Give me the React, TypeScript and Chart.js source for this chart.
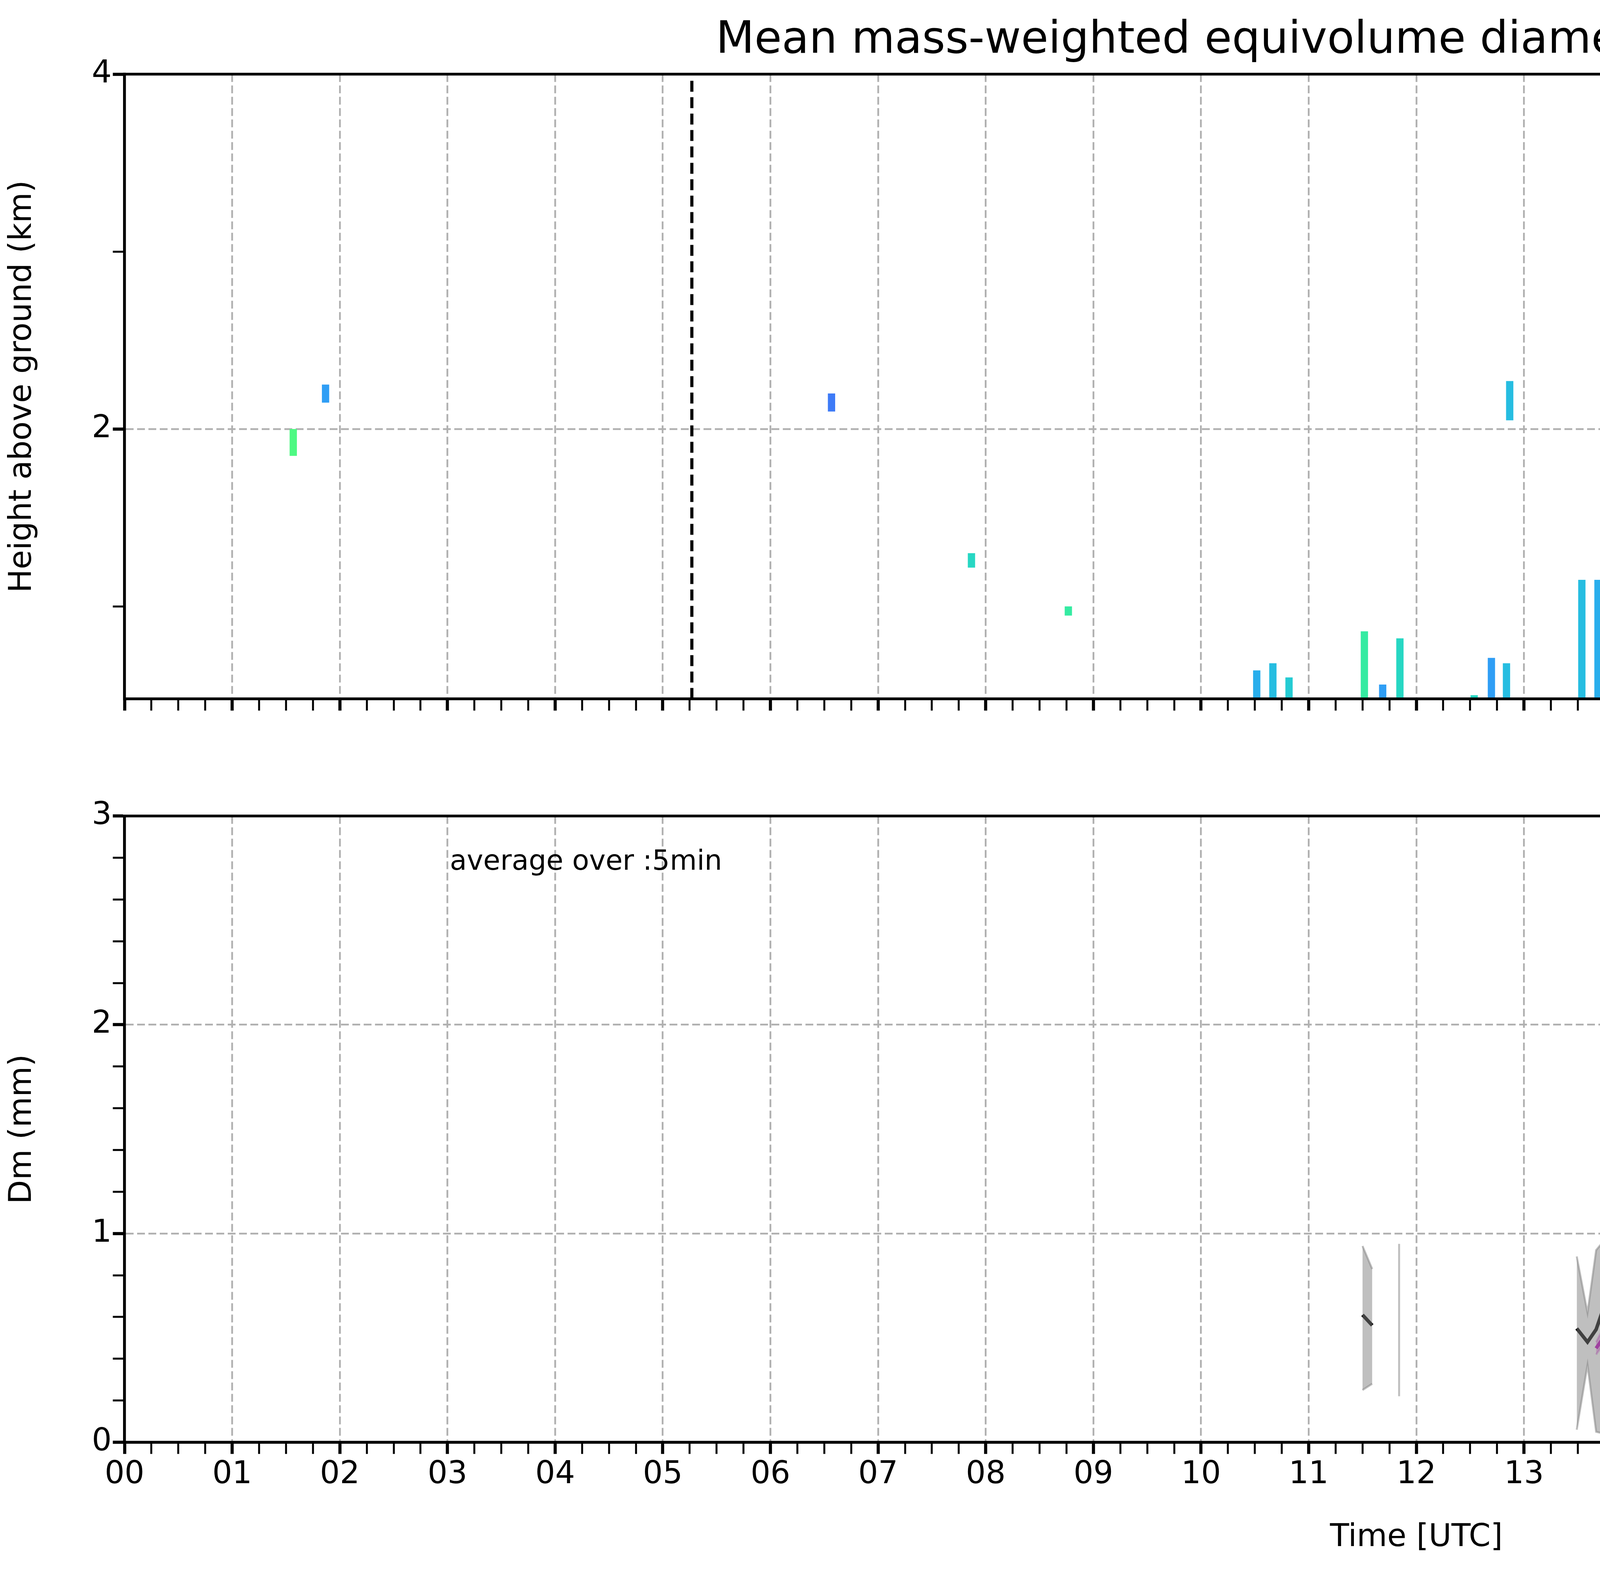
import { useEffect, useRef } from "react";
import { Chart, registerables } from "chart.js";

Chart.register(...registerables);

const S = 7442 / 1564;
const FONT = "DejaVu Sans";

// top panel: radar columns (hour, bottom km, top km, Dm mm)
const colTime = [1.6, 1.9, 6.6, 7.9, 8.8, 10.55, 10.7, 10.85, 11.55, 11.72, 11.88, 12.57, 12.73, 12.87, 12.9, 13.57, 13.72, 13.87, 14.57, 14.72, 14.88, 14.9, 15.55, 15.7, 15.85, 16.53, 16.68, 16.83, 17.55, 17.73, 17.88, 18.57, 18.72, 18.88, 19.57, 19.72, 19.87, 20.57, 20.72, 20.87, 21.57, 21.73, 21.87, 22.55, 22.7, 22.85, 23.55, 23.7, 23.85];
const colBottom = [1.85, 2.15, 2.1, 1.22, 0.95, 0.48, 0.48, 0.48, 0.48, 0.48, 0.48, 0.48, 0.48, 0.48, 2.05, 0.48, 0.48, 0.48, 0.48, 0.48, 0.53, 2.0, 0.48, 0.48, 0.48, 0.48, 0.48, 0.48, 0.48, 0.48, 0.48, 0.48, 0.48, 0.48, 0.48, 0.48, 0.48, 0.48, 0.48, 0.53, 1.33, 0.56, 0.48, 0.48, 0.48, 0.48, 0.48, 0.48, 0.48];
const colTop = [2.0, 2.25, 2.2, 1.3, 1.0, 0.64, 0.68, 0.6, 0.86, 0.56, 0.82, 0.5, 0.71, 0.68, 2.27, 1.15, 1.15, 1.11, 1.26, 1.26, 1.22, 2.27, 1.22, 1.15, 1.08, 1.11, 1.22, 1.11, 1.08, 1.22, 1.26, 1.04, 1.08, 1.04, 1.11, 1.15, 1.04, 1.08, 1.01, 1.04, 1.41, 1.04, 1.04, 1.01, 0.93, 1.04, 1.04, 1.04, 1.01];
const colDm = [0.8, 0.4, 0.3, 0.6, 0.7, 0.45, 0.5, 0.55, 0.7, 0.4, 0.6, 0.6, 0.4, 0.5, 0.5, 0.5, 0.45, 0.4, 0.7, 0.45, 0.45, 0.5, 0.8, 0.5, 0.75, 1.0, 0.5, 0.6, 0.9, 0.6, 0.5, 1.0, 0.5, 1.1, 0.7, 0.65, 0.4, 0.4, 0.5, 0.45, 0.55, 0.7, 0.4, 0.5, 0.7, 0.5, 0.4, 0.35, 0.4];
const eventLines = [5.27, 16.8];

// bottom panel: radar Dm (null = gap)
const radarTime = [11.5, 11.59, null, 13.49, 13.59, 13.67, 13.75, 13.84, null, 14.49, 14.59, 14.67, 14.75, 14.84, null, 15.49, 15.58, 15.67, 15.75, 15.83, null, 16.5, 16.59, 16.67, 16.76, 16.84, null, 17.5, 17.59, 17.67, 17.75, 17.84, null, 18.5, 18.59, 18.67, null, 19.5, 19.59, 19.67, 19.75, 19.84, null, 20.5, 20.59, 20.67, 20.75, 20.84, null, 21.67, 21.75, 21.84, null, 22.5, 22.59, 22.67, 22.75, 22.84, null, 23.5, 23.59, 23.67, 23.75, 23.84];
const radarMedian = [0.61, 0.56, null, 0.545, 0.48, 0.54, 0.66, 0.545, null, 0.54, 0.53, 0.54, 0.47, 0.535, null, 0.67, 0.85, 0.48, 0.4, 0.67, null, 0.63, 0.94, 0.53, 0.5, 0.51, null, 0.86, 0.51, 0.55, 0.54, 0.54, null, 0.81, 0.86, 0.55, null, 0.56, 0.58, 0.55, 0.58, 0.49, null, 0.39, 0.24, 0.49, 0.51, 0.535, null, 0.47, 0.44, 0.5, null, 0.535, 0.53, 0.62, 0.62, 0.48, null, 0.44, 0.39, 0.29, 0.41, 0.45];
const radarMax = [0.94, 0.83, null, 0.89, 0.62, 0.92, 0.97, 0.98, null, 0.59, 1.12, 0.79, 0.6, 0.58, null, 0.95, 0.95, 1.0, 0.85, 1.16, null, 1.45, 1.14, 0.6, 0.62, 1.66, null, 1.09, 0.67, 0.87, 0.7, 0.61, null, 1.05, 0.92, 0.92, null, 0.95, 0.86, 0.68, 0.82, 1.09, null, 0.99, 0.6, 0.6, 0.54, 0.94, null, 0.59, 0.52, 0.66, null, 0.87, 0.74, 0.81, 0.79, 0.66, null, 0.92, 0.71, 0.7, 0.57, 0.67];
const radarMin = [0.25, 0.28, null, 0.06, 0.37, 0.05, 0.04, 0.06, null, 0.44, 0.32, 0.0, 0.24, 0.33, null, 0.13, 0.11, 0.0, 0.29, 0.08, null, 0.54, 0.6, 0.36, 0.35, 0.09, null, 0.55, 0.25, 0.4, 0.44, 0.39, null, 0.32, 0.6, 0.07, null, 0.08, 0.39, 0.37, 0.17, 0.03, null, 0.02, 0.08, 0.33, 0.38, 0.51, null, 0.37, 0.22, 0.39, null, 0.25, 0.07, 0.22, 0.34, 0.38, null, 0.0, 0.03, 0.1, 0.17, 0.04];
const singleTime = [11.84, 18.84];
const singleMax = [0.95, 1.39];
const singleMin = [0.22, 0.07];

// bottom panel: parsivel Dm
const parsTime = [13.67, 13.75, 13.84, 13.92, null, 15.58, 15.67, 15.75, 15.83, 15.91, 16.0, 16.09, 16.17, 16.26, 16.34, 16.42, 16.51, 16.59, null, 16.75, 16.84, null, 17.25, 17.34, 17.42, 17.51, null, 18.0, 18.08, 18.17, 18.25, 18.34, 18.42, 18.5, 18.59, 18.67, null, 18.84, 18.92, 19.0, null, 19.42, 19.5];
const parsMedian = [0.45, 0.51, 0.52, 0.42, null, 0.83, 0.67, 0.63, 0.65, 0.78, 0.89, 0.74, 0.77, 0.78, 0.76, 0.7, 0.78, 0.81, null, 1.35, 0.86, null, 0.46, 0.61, 0.57, 0.5, null, 0.54, 0.53, 0.72, 1.23, 0.97, 0.69, 0.77, 0.76, 0.63, null, 0.64, 0.74, 0.55, null, 0.74, 1.29];
const parsMax = [0.48, 0.56, 0.57, 0.44, null, 0.91, 0.83, 0.9, 0.9, 0.86, 0.95, 0.84, 0.85, 0.95, 0.96, 0.82, 0.89, 0.81, null, 1.35, 0.86, null, 0.49, 0.74, 0.62, 0.65, null, 0.57, 0.68, 0.95, 1.45, 1.22, 0.87, 0.95, 0.85, 0.85, null, 1.2, 0.96, 0.6, null, 0.96, 1.29];
const parsMin = [0.42, 0.48, 0.47, 0.4, null, 0.78, 0.6, 0.54, 0.5, 0.75, 0.85, 0.72, 0.7, 0.68, 0.63, 0.68, 0.7, 0.81, null, 1.35, 0.68, null, 0.43, 0.58, 0.52, 0.47, null, 0.51, 0.46, 0.65, 1.02, 0.78, 0.62, 0.6, 0.63, 0.6, null, 0.59, 0.67, 0.55, null, 0.59, 1.29];

const cbTicks = [0, 0.4, 0.8, 1.2, 1.6, 2.0];

function turbo(v: number) {
  const x = Math.max(0, Math.min(1, v));
  const r = 0.13572138 + x * (4.6153926 + x * (-42.66032258 + x * (132.13108234 + x * (-152.94239396 + x * 59.28637943))));
  const g = 0.09140261 + x * (2.19418839 + x * (4.84296658 + x * (-14.18503333 + x * (4.27729857 + x * 2.82956604))));
  const b = 0.1066733 + x * (12.64194608 + x * (-60.58204836 + x * (110.36276771 + x * (-89.90310912 + x * 27.34824973))));
  const c = (t: number) => Math.round(255 * Math.max(0, Math.min(1, t)));
  return `rgb(${c(r)},${c(g)},${c(b)})`;
}

function series(times: (number | null)[], vals: (number | null)[]) {
  let last = 0;
  return times.map((t, i) => {
    if (t === null) return { x: last + 0.02, y: null };
    last = t;
    return { x: t, y: vals[i] };
  });
}

const frame = {
  id: "frame",
  afterDraw(chart: any) {
    const { ctx, chartArea: a } = chart;
    ctx.save();
    ctx.strokeStyle = "#000";
    ctx.lineWidth = 7;
    ctx.strokeRect(a.left, a.top, a.right - a.left, a.bottom - a.top);
    ctx.restore();
  },
};

const isInt = (v: number) => Math.abs(v - Math.round(v)) < 1e-6;
const GRID = "#b0b0b0";

function timeAxis(labels: boolean, height: number) {
  return {
    type: "linear",
    min: 0,
    max: 24,
    offset: false,
    afterBuildTicks: (s: any) => {
      const t = [];
      for (let i = 0; i <= 96; i++) t.push({ value: i / 4 });
      s.ticks = t;
    },
    afterFit: (s: any) => { s.height = height; },
    ticks: {
      autoSkip: false,
      maxRotation: 0,
      color: "#000",
      padding: 6,
      font: { size: 80, family: FONT },
      callback: (v: number) => (labels && isInt(v) && v < 24 ? String(v).padStart(2, "0") : ""),
    },
    grid: {
      offset: false,
      color: (c: any) => (c.tick && isInt(c.tick.value) ? GRID : "rgba(0,0,0,0)"),
      lineWidth: 4.5,
      tickColor: "#000",
      tickLength: 30,
      tickWidth: (c: any) => (c.tick && isInt(c.tick.value) ? 8 : 5),
    },
    border: { color: "#000", width: 7, dash: [20, 9] },
    title: labels
      ? { display: true, text: "Time [UTC]", color: "#000", font: { size: 80, family: FONT }, padding: { top: 0, bottom: 45 } }
      : { display: false },
  };
}

export default function App() {
  const topRef = useRef<HTMLCanvasElement>(null);
  const botRef = useRef<HTMLCanvasElement>(null);
  const cbRef = useRef<HTMLCanvasElement>(null);

  useEffect(() => {
    document.body.style.margin = "0";
    Chart.defaults.font.family = FONT;
    const charts: Chart[] = [];

    const cols = colTime.map((t, i) => ({ x: t, y: [colBottom[i], colTop[i]], dm: colDm[i] }));
    const vlines: any[] = [];
    eventLines.forEach((t) => { vlines.push({ x: t, y: 0.48 }, { x: t, y: 4 }, { x: t + 0.001, y: null }); });

    charts.push(new Chart(topRef.current!, {
      type: "bar",
      data: {
        datasets: [
          {
            data: cols as any,
            backgroundColor: (c: any) => turbo((c.raw?.dm ?? 0) / 2),
            barThickness: 18,
            borderWidth: 0,
          } as any,
          {
            data: [{ x: 23.955, y: [0.48, 4] }] as any,
            backgroundColor: "#d3d3d3",
            barThickness: 24,
          } as any,
          {
            type: "line",
            data: vlines,
            borderColor: "#000",
            borderWidth: 8,
            borderDash: [28, 14],
            pointRadius: 0,
            spanGaps: false,
          } as any,
        ],
      },
      options: {
        responsive: false,
        devicePixelRatio: 1,
        animation: false,
        layout: { padding: { left: 0, right: 107 * S, top: 0, bottom: 0 } },
        plugins: {
          legend: { display: false },
          tooltip: { enabled: false },
          title: {
            display: true,
            text: "Mean mass-weighted equivolume diameter on 20241003",
            color: "#000",
            font: { size: 114, family: FONT, weight: "normal" },
            padding: { top: 37, bottom: 16 },
          },
        },
        scales: {
          x: timeAxis(false, 44 * S) as any,
          y: {
            type: "linear",
            min: 0.48,
            max: 4,
            afterBuildTicks: (s: any) => { s.ticks = [1, 2, 3, 4].map((v) => ({ value: v })); },
            afterFit: (s: any) => { s.width = 67 * S; },
            ticks: {
              color: "#000",
              font: { size: 80, family: FONT },
              callback: (v: number) => (v === 2 || v === 4 ? String(v) : ""),
            },
            grid: {
              color: (c: any) => (c.tick && c.tick.value === 2 ? GRID : "rgba(0,0,0,0)"),
              lineWidth: 4.5,
              tickColor: "#000",
              tickLength: 30,
              tickWidth: (c: any) => (c.tick && c.tick.value % 2 === 0 ? 8 : 5),
            },
            border: { color: "#000", width: 7, dash: [20, 9] },
            title: { display: true, text: "Height above ground (km)", color: "#000", font: { size: 80, family: FONT }, padding: 10 },
          },
        },
      },
      plugins: [frame],
    }));

    const singles: any[] = [];
    singleTime.forEach((t, i) => { singles.push({ x: t, y: singleMin[i] }, { x: t, y: singleMax[i] }, { x: t + 0.001, y: null }); });

    const gray = "rgba(128,128,128,0.5)";
    const mag = "rgba(191,0,191,0.3)";
    charts.push(new Chart(botRef.current!, {
      type: "line",
      data: {
        datasets: [
          { data: series(radarTime, radarMax), borderColor: gray, backgroundColor: gray, borderWidth: 5, fill: "+1" },
          { data: series(radarTime, radarMin), borderColor: gray, backgroundColor: gray, borderWidth: 5, fill: false },
          { data: singles, borderColor: gray, borderWidth: 5, fill: false },
          { data: series(radarTime, radarMedian), borderColor: "#000", borderWidth: 9, fill: false },
          { data: series(parsTime, parsMax), borderColor: mag, backgroundColor: mag, borderWidth: 5, fill: "+1" },
          { data: series(parsTime, parsMin), borderColor: mag, backgroundColor: mag, borderWidth: 5, fill: false },
          { data: series(parsTime, parsMedian), borderColor: "#bf00bf", borderWidth: 9, fill: false },
        ] as any,
      },
      options: {
        responsive: false,
        devicePixelRatio: 1,
        animation: false,
        spanGaps: false,
        elements: { point: { radius: 0 }, line: { tension: 0 } },
        layout: { padding: { left: 0, right: 107 * S, top: 19 * S, bottom: 0 } },
        plugins: { legend: { display: false }, tooltip: { enabled: false } },
        scales: {
          x: timeAxis(true, 71 * S) as any,
          y: {
            type: "linear",
            min: 0,
            max: 3,
            afterBuildTicks: (s: any) => {
              const t = [];
              for (let i = 0; i <= 15; i++) t.push({ value: i / 5 });
              s.ticks = t;
            },
            afterFit: (s: any) => { s.width = 67 * S; },
            ticks: {
              autoSkip: false,
              color: "#000",
              font: { size: 80, family: FONT },
              callback: (v: number) => (isInt(v) ? String(Math.round(v)) : ""),
            },
            grid: {
              color: (c: any) => (c.tick && isInt(c.tick.value) ? GRID : "rgba(0,0,0,0)"),
              lineWidth: 4.5,
              tickColor: "#000",
              tickLength: 30,
              tickWidth: (c: any) => (c.tick && isInt(c.tick.value) ? 8 : 5),
            },
            border: { color: "#000", width: 7, dash: [20, 9] },
            title: { display: true, text: "Dm (mm)", color: "#000", font: { size: 80, family: FONT }, padding: 10 },
          },
        },
      },
      plugins: [frame],
    }));

    const gradient = {
      id: "gradient",
      beforeDatasetsDraw(chart: any) {
        const { ctx, chartArea: a } = chart;
        const g = ctx.createLinearGradient(0, a.bottom, 0, a.top);
        for (let i = 0; i <= 20; i++) g.addColorStop(i / 20, turbo(i / 20));
        ctx.save();
        ctx.fillStyle = g;
        ctx.fillRect(a.left, a.top, a.right - a.left, a.bottom - a.top);
        ctx.restore();
      },
    };
    charts.push(new Chart(cbRef.current!, {
      type: "bar",
      data: { labels: [""], datasets: [{ data: [null] as any }] },
      options: {
        responsive: false,
        devicePixelRatio: 1,
        animation: false,
        layout: { padding: { left: 0, right: 0, top: 40 * S, bottom: 44 * S } },
        plugins: { legend: { display: false }, tooltip: { enabled: false } },
        scales: {
          x: { display: false },
          y: {
            position: "right",
            min: 0,
            max: 2,
            afterBuildTicks: (s: any) => { s.ticks = cbTicks.map((v) => ({ value: v })); },
            afterFit: (s: any) => { s.width = (1564 - 1497) * S; },
            ticks: { color: "#000", font: { size: 67, family: FONT }, callback: (v: number) => v.toFixed(1) },
            grid: { drawOnChartArea: false, tickColor: "#000", tickLength: 30, tickWidth: 7 },
            border: { color: "#000", width: 6 },
            title: { display: true, text: "Dm (mm)", color: "#000", font: { size: 67, family: FONT }, padding: 0 },
          },
        },
      },
      plugins: [gradient, frame],
    }));

    return () => charts.forEach((c) => c.destroy());
  }, []);

  const W = 1564 * S;
  const legendRows = [
    { text: "Min-Max Range radar Dm", kind: "patch", color: "rgba(128,128,128,0.5)", edge: "rgba(128,128,128,0.7)" },
    { text: "radar(xmacs-wmacs)_Dm_median", kind: "line", color: "#000" },
    { text: "Min-Max Range parsivel Dm", kind: "patch", color: "rgba(191,0,191,0.3)", edge: "rgba(191,0,191,0.45)" },
    { text: "parsivel_Dm_median", kind: "line", color: "#bf00bf" },
  ];

  return (
    <div style={{ position: "relative", width: W, height: 847 * S, background: "#fff", fontFamily: FONT }}>
      <canvas ref={topRef} width={W} height={420 * S} style={{ position: "absolute", left: 0, top: 0 }} />
      <canvas ref={botRef} width={W} height={427 * S} style={{ position: "absolute", left: 0, top: 420 * S }} />
      <canvas ref={cbRef} width={(1564 - 1473) * S} height={420 * S} style={{ position: "absolute", left: 1473 * S, top: 0 }} />
      <div style={{ position: "absolute", left: 242 * S, top: 454 * S, fontSize: 71, color: "#000", whiteSpace: "nowrap" }}>
        average over :5min
      </div>
      <div
        style={{
          position: "absolute",
          left: 1146 * S,
          top: 446 * S,
          width: 302 * S,
          height: 91 * S,
          border: "5px solid #d0d0d0",
          borderRadius: 14,
          background: "rgba(255,255,255,0.8)",
          boxSizing: "border-box",
        }}
      >
        {legendRows.map((r, i) => (
          <div key={i} style={{ position: "absolute", left: 2 * S, top: (3.5 + i * 21.3) * S, height: 16 * S, display: "flex", alignItems: "center" }}>
            <div style={{ width: 28 * S, height: 16 * S, display: "flex", alignItems: "center" }}>
              {r.kind === "patch" ? (
                <div style={{ width: 28 * S, height: 11 * S, background: r.color, border: `5px solid ${r.edge}`, boxSizing: "border-box" }} />
              ) : (
                <div style={{ width: 28 * S, height: 9, background: r.color }} />
              )}
            </div>
            <span style={{ marginLeft: 11 * S, fontSize: 60, color: "#000", whiteSpace: "nowrap" }}>{r.text}</span>
          </div>
        ))}
      </div>
    </div>
  );
}
